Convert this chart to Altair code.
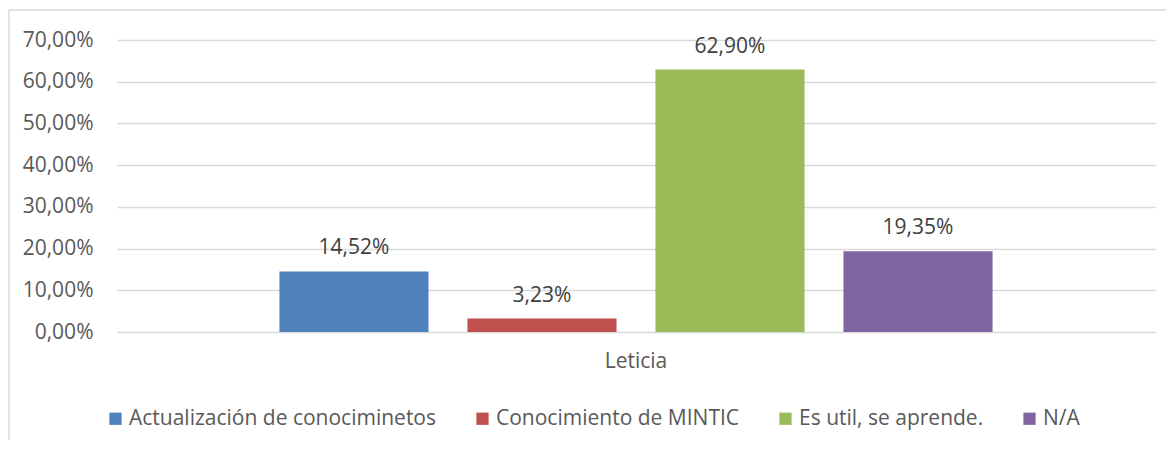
import altair as alt
import pandas as pd

categories = ["Actualización de conociminetos", "Conocimiento de MINTIC", "Es util, se aprende.", "N/A"]
values = [0.1452, 0.0323, 0.6290, 0.1935]
group = ["Leticia"] * 4
colors = ["#4F81BD", "#C0504D", "#9BBB59", "#8064A2"]

df = pd.DataFrame({"serie": categories, "valor": values, "grupo": group})

FONT = "Open Sans"
FS = 21

base = alt.Chart(df).encode(
    x=alt.X("grupo:N", title=None,
            scale=alt.Scale(paddingInner=0, paddingOuter=0),
            axis=alt.Axis(labelAngle=0, ticks=False, domain=False, grid=False, labelPadding=18,
                          labelFont=FONT, labelFontSize=FS, labelColor="#595959")),
    xOffset=alt.XOffset("serie:N", sort=categories,
                        scale=alt.Scale(paddingInner=0.207, paddingOuter=0.864)),
)

bars = base.mark_bar().encode(
    y=alt.Y("valor:Q", title=None,
            scale=alt.Scale(domain=[0, 0.7]),
            axis=alt.Axis(values=[0, 0.1, 0.2, 0.3, 0.4, 0.5, 0.6, 0.7],
                          labelExpr="replace(format(datum.value, '.2%'), '.', ',')",
                          ticks=False, domain=False, grid=True, gridColor="#d9d9d9", gridWidth=1.5,
                          labelPadding=24, labelFont=FONT, labelFontSize=FS,
                          labelColor="#595959")),
    color=alt.Color("serie:N", sort=categories,
                    scale=alt.Scale(domain=categories, range=colors),
                    legend=alt.Legend(title=None, orient="none", direction="horizontal",
                                      columns=4, legendX=-12, legendY=368,
                                      symbolType="square", symbolSize=150,
                                      symbolStrokeWidth=0, labelOffset=3, labelLimit=0,
                                      columnPadding=35, labelFont=FONT,
                                      labelFontSize=FS, labelColor="#595959")),
)

labels = base.mark_text(baseline="alphabetic", dy=-17, font=FONT, fontSize=FS,
                        color="#404040").encode(
    y=alt.Y("valor:Q"),
    text=alt.Text("lbl:N"),
).transform_calculate(lbl="replace(format(datum.valor, '.2%'), '.', ',')")

frame = pd.DataFrame({"a": [0]})
top_edge = alt.Chart(frame).mark_rule(color="#d9d9d9", strokeWidth=1.5).encode(
    x=alt.value(-108), x2=alt.value(1060), y=alt.value(-30))
left_edge = alt.Chart(frame).mark_rule(color="#d9d9d9", strokeWidth=1.5).encode(
    x=alt.value(-108), y=alt.value(-30), y2=alt.value(420))

chart = alt.layer(top_edge, left_edge, bars, labels).properties(
    width=1038, height=292,
    background="white",
    autosize=alt.AutoSizeParams(type="none"),
    padding={"left": 109, "top": 32, "right": 11, "bottom": 108},
).configure_view(stroke="transparent", strokeWidth=0).configure_axisX(
    grid=False, domain=False, ticks=False
)

chart.save("out.html", embed_options={"renderer": "svg", "actions": False})
